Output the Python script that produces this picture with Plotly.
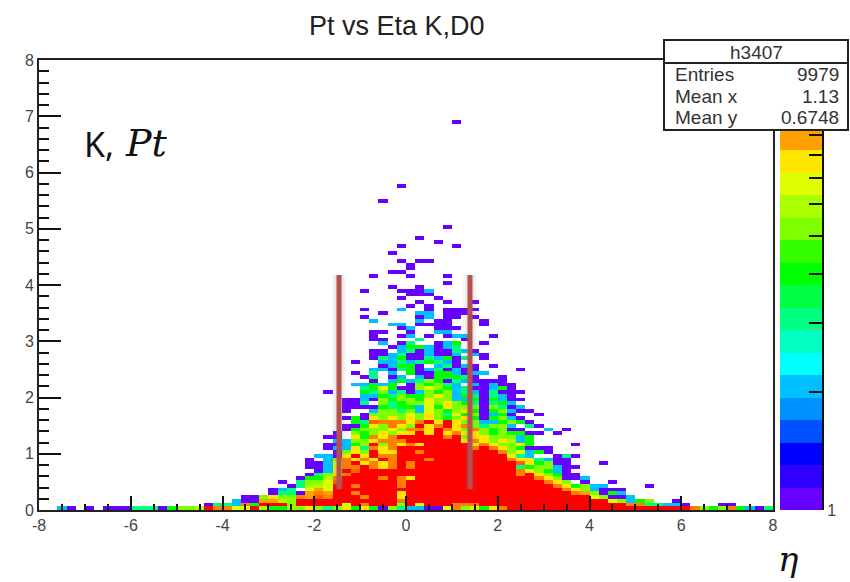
import math
import plotly.graph_objects as go

TITLE = "Pt vs Eta K,D0"
x_ticks = [-8, -6, -4, -2, 0, 2, 4, 6, 8]
y_ticks = [0, 1, 2, 3, 4, 5, 6, 7, 8]
x_bins = 80
y_bins = 120
x_low, x_high = -8, 8
y_low, y_high = 0, 8
count_max = 14
palette = ["#6600ff", "#3000ff", "#0000ff", "#0050ff", "#0090ff", "#00c0ff", "#00ffff",
           "#00ffc0", "#00ff80", "#00ff44", "#00ff00", "#33ff00", "#80ff00", "#aaff00",
           "#ddff00", "#ffe600", "#ffa000", "#ff8000", "#ff6000", "#ff0000"]
stats_labels = ["Entries", "Mean x", "Mean y"]
stats_values = ["9979", "1.13", "0.6748"]
marker_eta = [-1.46, 1.395]
marker_pt = [0.37, 4.18]

# One entry per occupied row: row number, first column, and counts per cell
# ('.' empty, 1-9, a=10, b=11, R = saturated red)
row_numbers = [103, 86, 82, 75, 72, 71, 70, 68, 66, 65, 64, 63, 62, 60, 59, 58, 57, 56, 55, 54,
               53, 52, 51, 50, 49, 48, 47, 46, 45, 44, 43, 42, 41, 40, 39, 38, 37, 36, 35, 34,
               33, 32, 31, 30, 29, 28, 27, 26, 25, 24, 23, 22, 21, 20, 19, 18, 17, 16, 15, 14,
               13, 12, 11, 10, 9, 8, 7, 6, 5, 4, 3, 2, 1, 0]
row_starts = [45, 39, 37, 44, 41, 43, 39, 38, 39, 40, 40, 38, 36, 44, 38, 35, 40, 39, 41, 40,
              35, 37, 35, 36, 38, 39, 36, 36, 36, 37, 38, 36, 36, 36, 34, 37, 36, 34, 35, 36,
              34, 35, 31, 35, 33, 33, 33, 33, 35, 33, 34, 33, 33, 32, 31, 32, 31, 31, 32, 30,
              29, 29, 29, 30, 29, 28, 26, 27, 25, 25, 22, 21, 18, 2]
row_counts = [
    "1", "1", "1", "1", "1", "1", "1.....1", "1", "1.11", "1", "1", "11", "1...1...1", "1",
    "1..1", "1...1112", "111", "1...1", "1..1..1", "1.1",
    "1...2..1.1111", "1...22.111", "1.....12.11.1", "2....2.11...1", "22.1111...1",
    "12..111", "11..1..22", "1..12.1.122..1", "11...3....1", "2.13..124..1", "12442123",
    "11.231211321", "1123112112.21", "13241132413.1", "1..223234321", "12441.23121.1",
    "221341231211....1", "1.3.2.411442122", "13.12.2144431..1", "1.2423541321111",
    "22424.154532.21211", "34741157542311241", "1...435231254523213111",
    "22435445852431321", "11215455485522414211", "113.534557585431342", "11114344274855515312",
    "1..255352754584145211", "15555758538451241..1", "14185858585458414521",
    "43baaa8aR8R855224541", "11485a85R8aR8a53552.31", "1455585aa8Ra85a54511..2.1",
    "1.5458588R8R8a885454411.1", "11.84a8aRRRRRaR58855524", "22558aaaRRRRRR8a858624",
    "11245R5a8a8RRRRR8a85574....1", "12283a8aRRRRRRRRaRa854111",
    "1585R88RRaRRRRRRRRa57241", "2218R8RaaRRRRRRRRRRRR832..131",
    "1.25a8a8RaRRRaRRRRRRRRa883211",
    "1128aR8a8aRaRRRRRRRRRRRb84511...1",
    "1127aaRa8aRaRRRRRRRRRRR3455211",
    "128RbRRRRRRRRRRRRRRRRRa85421",
    "1358aRRRRRRRRRRRRRRRRRRaR85411",
    "1446aRRRRaRa8RRRRRRRRRRRRRa85112",
    "1.3557bRRRRRRaRRRRRRRRRRRRRRRa85.1..1",
    "13667RRaRRRRaRRRRRRRRRRRRRRRRa84522....1",
    "123.797RRRRRRRRRRRRRRRRRRRRRRRRRa852111",
    "13319a9RRaRRRR8RRRRRRRRRRRRRRRRRRa95142",
    "115855a9baRRRaRRR8RRRRRRRRRRRRRRRRRRRR75112",
    "2119965RRRRRRRRRRRaRRRRRRRRRRRRRRRRRRRRRR75245..1",
    "1332a4RRR5RRRRR7RaRRR5R7RRRaaaRRRRRRRRRRRRRRRRaa33221...11",
    "21.1.11133314556Raa77R644658535848415322117a5848aRRRRRRRRRRRRRRRRRRRRa545a4213",
]


def cell_value(ch):
    if ch == ".":
        return None
    if ch == "R":
        return 40
    return int(ch, 16)


step_x = (x_high - x_low) / x_bins
step_y = (y_high - y_low) / y_bins
x_edges = [x_low + i * step_x for i in range(x_bins + 1)]
y_edges = [y_low + j * step_y for j in range(y_bins + 1)]
z = [[None] * x_bins for _ in range(y_bins)]
for row, start, text in zip(row_numbers, row_starts, row_counts):
    for k, ch in enumerate(text):
        if start + k < x_bins:
            v = cell_value(ch)
            z[row][start + k] = None if v is None else math.log10(v)

log_max = math.log10(count_max)
n = len(palette)
colorscale = []
for k, c in enumerate(palette):
    colorscale.append([k / n, c])
    colorscale.append([(k + 1) / n, c])

W, H = 850, 582
L, R, T, B = 39, 773, 60, 510
BL, BR = 780, 822


def px(v):
    return v / W


def py(v):
    return 1 - v / H


fig = go.Figure()
fig.add_trace(go.Heatmap(x=x_edges, y=y_edges, z=z, zmin=0, zmax=log_max, colorscale=colorscale,
                         showscale=False, hoverongaps=False, xaxis="x", yaxis="y"))
bar_edges = [log_max * k / n for k in range(n + 1)]
bar_z = [[log_max * (k + 0.5) / n] for k in range(n)]
fig.add_trace(go.Heatmap(x=[0, 1], y=bar_edges, z=bar_z, zmin=0, zmax=log_max, colorscale=colorscale,
                         showscale=False, xaxis="x2", yaxis="y2"))

tick_font = dict(family="Liberation Sans", size=16, color="#444444")
minor_x = [x_low + 0.5 * i for i in range(33) if i % 4]
minor_y = [0.2 * i for i in range(41) if i % 5]
fig.update_layout(
    width=W, height=H, autosize=False, margin=dict(l=0, r=0, t=0, b=0),
    paper_bgcolor="white", plot_bgcolor="white", showlegend=False,
    xaxis=dict(domain=[px(L), px(R)], range=[x_low, x_high], tickmode="array", tickvals=x_ticks,
               ticktext=[str(v) for v in x_ticks], ticks="inside", ticklen=14, tickwidth=2,
               tickcolor="#111111", showgrid=False, zeroline=False, showline=True, linecolor="#222222",
               linewidth=2, mirror=True, tickfont=tick_font, anchor="y", automargin=False,
               minor=dict(tickvals=minor_x, ticks="inside", ticklen=6, tickwidth=2, tickcolor="#111111")),
    yaxis=dict(domain=[py(B), py(T)], range=[y_low, y_high], tickmode="array", tickvals=y_ticks,
               ticktext=[str(v) for v in y_ticks], ticks="inside", ticklen=22, tickwidth=2,
               tickcolor="#111111", showgrid=False, zeroline=False, showline=True, linecolor="#222222",
               linewidth=2, mirror=True, tickfont=tick_font, anchor="x", automargin=False,
               minor=dict(tickvals=minor_y, ticks="inside", ticklen=10, tickwidth=2, tickcolor="#111111")),
    xaxis2=dict(domain=[px(BL), px(BR)], range=[0, 1], visible=False, anchor="y2", automargin=False),
    yaxis2=dict(domain=[py(B), py(T)], range=[0, log_max], side="right", anchor="x2", tickmode="array",
                tickvals=[0], ticktext=["1"], ticks="inside", ticklen=24, tickwidth=2, tickcolor="#111111",
                showgrid=False, zeroline=False, showline=True, linecolor="#111111", linewidth=2,
                tickfont=tick_font, automargin=False,
                minor=dict(tickvals=[math.log10(v) for v in range(2, 10)], ticks="inside", ticklen=13,
                           tickwidth=2, tickcolor="#111111")),
)

shapes = []
for eta in marker_eta:
    for w, col in [(14, "rgba(120,120,120,0.07)"), (9, "rgba(120,120,120,0.10)")]:
        shapes.append(dict(type="line", xref="x", yref="y", x0=eta, x1=eta, y0=marker_pt[0], y1=marker_pt[1],
                           line=dict(color=col, width=w), layer="above"))
    shapes.append(dict(type="line", xref="x", yref="y", x0=eta, x1=eta, y0=marker_pt[0], y1=marker_pt[1],
                       line=dict(color="#b5504e", width=5), layer="above"))
shapes.append(dict(type="rect", xref="paper", yref="paper", x0=px(664), x1=px(848), y0=py(130), y1=py(40),
                   fillcolor="white", line=dict(color="#222222", width=2), layer="above"))
shapes.append(dict(type="line", xref="paper", yref="paper", x0=px(664), x1=px(848), y0=py(63), y1=py(63),
                   line=dict(color="#222222", width=2), layer="above"))
fig.update_layout(shapes=shapes)


def note(x, y, text, size, anchor="center", family="Liberation Sans", color="#333333"):
    fig.add_annotation(xref="paper", yref="paper", x=px(x), y=py(y), text=text, showarrow=False,
                       xanchor=anchor, yanchor="middle", font=dict(family=family, size=size, color=color))


note(397, 26, TITLE, 27, color="#222222")
note(756, 52, "h3407", 19)
for lab, val, yy in zip(stats_labels, stats_values, [75, 97, 118]):
    note(673, yy, lab, 19, "left")
    note(841, yy, val, 19, "right")
note(82, 144, "K,", 34, "left", "Noto Sans", "#111111")
note(123, 143, "<i>Pt</i>", 38, "left", "DejaVu Serif", "#111111")
note(788, 559, "<i>η</i>", 34, "center", "DejaVu Serif", "#111111")

fig.write_html("out.html", config={"displayModeBar": False},
               post_script="document.body.style.margin='0';document.body.style.overflow='hidden';")
